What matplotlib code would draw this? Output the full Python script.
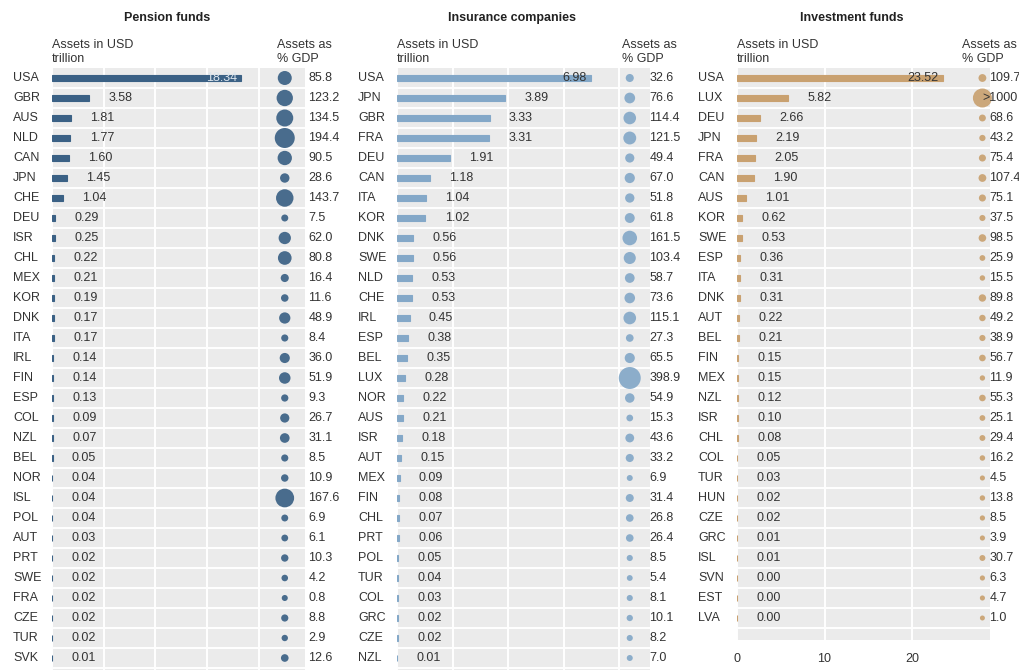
#!/usr/bin/env python3
"""institutional investors assets: pension funds, insurance, investment funds"""
import matplotlib
matplotlib.use('Agg')
import matplotlib.pyplot as plt
import matplotlib.transforms as mtransforms

plt.rcParams['font.family'] = ['Liberation Sans', 'DejaVu Sans']

# data
pension_countries = ['USA', 'GBR', 'AUS', 'NLD', 'CAN', 'JPN', 'CHE', 'DEU', 'ISR', 'CHL',
                     'MEX', 'KOR', 'DNK', 'ITA', 'IRL', 'FIN', 'ESP', 'COL', 'NZL', 'BEL',
                     'NOR', 'ISL', 'POL', 'AUT', 'PRT', 'SWE', 'FRA', 'CZE', 'TUR', 'SVK']
pension_assets = [18.34, 3.58, 1.81, 1.77, 1.60, 1.45, 1.04, 0.29, 0.25, 0.22,
                  0.21, 0.19, 0.17, 0.17, 0.14, 0.14, 0.13, 0.09, 0.07, 0.05,
                  0.04, 0.04, 0.04, 0.03, 0.02, 0.02, 0.02, 0.02, 0.02, 0.01]
pension_gdp = [85.8, 123.2, 134.5, 194.4, 90.5, 28.6, 143.7, 7.5, 62.0, 80.8,
               16.4, 11.6, 48.9, 8.4, 36.0, 51.9, 9.3, 26.7, 31.1, 8.5,
               10.9, 167.6, 6.9, 6.1, 10.3, 4.2, 0.8, 8.8, 2.9, 12.6]

insurance_countries = ['USA', 'JPN', 'GBR', 'FRA', 'DEU', 'CAN', 'ITA', 'KOR', 'DNK', 'SWE',
                       'NLD', 'CHE', 'IRL', 'ESP', 'BEL', 'LUX', 'NOR', 'AUS', 'ISR', 'AUT',
                       'MEX', 'FIN', 'CHL', 'PRT', 'POL', 'TUR', 'COL', 'GRC', 'CZE', 'NZL']
insurance_assets = [6.98, 3.89, 3.33, 3.31, 1.91, 1.18, 1.04, 1.02, 0.56, 0.56,
                    0.53, 0.53, 0.45, 0.38, 0.35, 0.28, 0.22, 0.21, 0.18, 0.15,
                    0.09, 0.08, 0.07, 0.06, 0.05, 0.04, 0.03, 0.02, 0.02, 0.01]
insurance_gdp = [32.6, 76.6, 114.4, 121.5, 49.4, 67.0, 51.8, 61.8, 161.5, 103.4,
                 58.7, 73.6, 115.1, 27.3, 65.5, 398.9, 54.9, 15.3, 43.6, 33.2,
                 6.9, 31.4, 26.8, 26.4, 8.5, 5.4, 8.1, 10.1, 8.2, 7.0]

investment_countries = ['USA', 'LUX', 'DEU', 'JPN', 'FRA', 'CAN', 'AUS', 'KOR', 'SWE', 'ESP',
                        'ITA', 'DNK', 'AUT', 'BEL', 'FIN', 'MEX', 'NZL', 'ISR', 'CHL', 'COL',
                        'TUR', 'HUN', 'CZE', 'GRC', 'ISL', 'SVN', 'EST', 'LVA']
investment_assets = [23.52, 5.82, 2.66, 2.19, 2.05, 1.90, 1.01, 0.62, 0.53, 0.36,
                     0.31, 0.31, 0.22, 0.21, 0.15, 0.15, 0.12, 0.10, 0.08, 0.05,
                     0.03, 0.02, 0.02, 0.01, 0.01, 0.00, 0.00, 0.00]
investment_gdp = [109.7, 1000, 68.6, 43.2, 75.4, 107.4, 75.1, 37.5, 98.5, 25.9,
                  15.5, 89.8, 49.2, 38.9, 56.7, 11.9, 55.3, 25.1, 29.4, 16.2,
                  4.5, 13.8, 8.5, 3.9, 30.7, 6.3, 4.7, 1.0]

TEXT = '#333333'
W, H = 1019, 670

fig = plt.figure(figsize=(W / 100, H / 100), dpi=100)

# panel settings: (title, countries, assets, gdp, color, left px, bottom px, xlim,
#                  grid step, bubble column, label offset, bubble size c, k, ylim bottom)
panels = [
    ('Pension funds', pension_countries, pension_assets, pension_gdp, '#3b6185',
     52, 0, 24.5, 5, 0.92, 17, 35, 1.88, 29.6),
    ('Insurance companies', insurance_countries, insurance_assets, insurance_gdp, '#84a8c8',
     397, 0, 9.1, 2, 0.92, 14, 28, 1.14, 29.6),
    ('Investment funds', investment_countries, investment_assets, investment_gdp, '#c9a170',
     737, 30, 28.9, 10, 0.97, 5, 24.7, 0.336, 28.1),
]

for (title, countries, assets, gdp, color, left, bottom, xmax, step, bx, boff,
     c, k, ybot) in panels:
    ax = fig.add_axes([left / W, bottom / H, 253 / W, (H - 68 - bottom) / H])
    ax.set_facecolor('#ebebeb')
    for s in ax.spines.values():
        s.set_visible(False)
    y = list(range(len(countries)))
    ax.set_xlim(0, xmax)
    ax.set_ylim(ybot, -0.5)
    ax.set_xticks([t for t in range(0, int(xmax) + 1, step)])
    ax.set_yticks([i + 0.5 for i in y], minor=True)
    ax.set_yticks([])
    ax.grid(True, axis='x', color='white', linewidth=1.4)
    ax.grid(True, axis='y', which='minor', color='white', linewidth=1.4)
    ax.set_axisbelow(True)
    ax.tick_params(axis='x', length=0, labelsize=9, labelcolor=TEXT, pad=9)
    ax.tick_params(axis='y', which='both', length=0)
    if bottom == 0:
        ax.set_xticklabels([])

    ax.barh(y, assets, height=0.3, color=color, edgecolor=color, linewidth=0.8)

    # value labels next to bars
    top = max(assets)
    for yi, v in zip(y, assets):
        if v == top:
            ax.annotate(f'{v:.2f}', (v, yi), xytext=(-3, 0), textcoords='offset points',
                        ha='right', va='center', fontsize=9,
                        color='#dde6ee' if color == '#3b6185' else TEXT)
        else:
            ax.annotate(f'{v:.2f}', (v, yi), xytext=(14, 0), textcoords='offset points',
                        ha='left', va='center', fontsize=9, color=TEXT)

    # bubble column for assets as % of GDP
    trans = mtransforms.blended_transform_factory(ax.transAxes, ax.transData)
    sizes = [(c + k * g) * 0.72 ** 2 for g in gdp]
    ax.scatter([bx] * len(y), y, s=sizes, color=color, alpha=0.92, transform=trans,
               linewidths=0, zorder=3, clip_on=False)
    for yi, g in zip(y, gdp):
        if g >= 1000:
            lab, off = '>1000', 0
        else:
            lab, off = f'{g:.1f}', boff
        ax.annotate(lab, (bx, yi), xycoords=trans, xytext=(off, 0),
                    textcoords='offset points', ha='left', va='center',
                    fontsize=9, color=TEXT, annotation_clip=False, zorder=4)

    # country labels
    ctrans = mtransforms.blended_transform_factory(fig.transFigure, ax.transData)
    for yi, name in zip(y, countries):
        ax.text((left - 39) / W, yi, name, transform=ctrans, ha='left', va='center',
                fontsize=9, color=TEXT)

    # headers
    fig.text((left + 115) / W, 1 - 18 / H, title, ha='center', va='center',
             fontsize=9, fontweight='bold', color='#222222')
    fig.text(left / W, 1 - 52 / H, 'Assets in USD\ntrillion', ha='left', va='center',
             fontsize=9, color=TEXT, linespacing=1.2)
    fig.text((left + 225) / W, 1 - 52 / H, 'Assets as\n% GDP', ha='left', va='center',
             fontsize=9, color=TEXT, linespacing=1.2)

fig.savefig('out.png', dpi=100)
